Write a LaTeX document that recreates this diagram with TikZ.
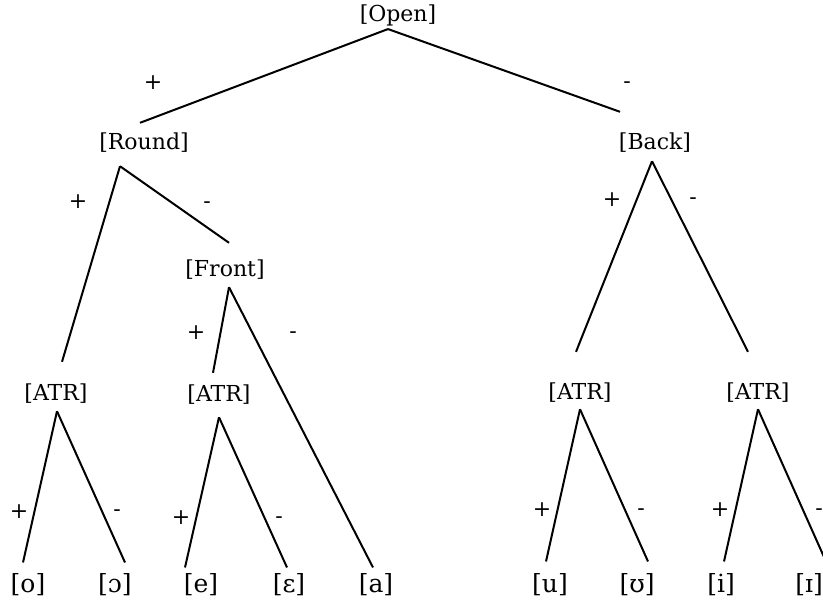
\documentclass[tikz,border=0pt]{standalone}
\usepackage{fontspec}
\setmainfont{DejaVu Serif}

\begin{document}
\begin{tikzpicture}[x=0.5pt,y=-0.5pt,
    feat/.style={inner sep=0pt,font=\fontsize{11}{13}\selectfont},
    seg/.style={inner sep=0pt,font=\fontsize{12.5}{14}\selectfont},
    sign/.style={inner sep=0pt,font=\fontsize{11}{13}\selectfont},
    branch/.style={line width=1pt}]
    \useasboundingbox (0,0) rectangle (823,602);
    % feature nodes
    \node[feat] (open) at (398,15) {[Open]};
    \node[feat] (round) at (144,143) {[Round]};
    \node[feat] (back) at (655,143) {[Back]};
    \node[feat] (front) at (225,270) {[Front]};
    \node[feat] (atrA) at (56,394) {[ATR]};
    \node[feat] (atrB) at (219,395) {[ATR]};
    \node[feat] (atrC) at (580,393) {[ATR]};
    \node[feat] (atrD) at (758,393) {[ATR]};
    % vowels
    \node[seg] (o) at (28,585) {[o]};
    \node[seg] (oo) at (115,585) {[ɔ]};
    \node[seg] (e) at (201,585) {[e]};
    \node[seg] (ee) at (289,585) {[ɛ]};
    \node[seg] (a) at (376,585) {[a]};
    \node[seg] (u) at (550,585) {[u]};
    \node[seg] (uu) at (637,585) {[ʊ]};
    \node[seg] (i) at (721,585) {[i]};
    \node[seg] (ii) at (809,585) {[ɪ]};
    % branches
    \draw[branch] ([shift={(-10,3)}]open.south) -- ([shift={(-4,-10)}]round.north);
    \draw[branch] ([shift={(-10,3)}]open.south) -- ([shift={(-35,-21)}]back.north);
    \draw[branch] ([shift={(-24,13)}]round.south) -- ([shift={(6,-22)}]atrA.north);
    \draw[branch] ([shift={(-24,13)}]round.south) -- ([shift={(4,-17)}]front.north);
    \draw[branch] ([shift={(-3,8)}]back.south) -- ([shift={(-4,-31)}]atrC.north);
    \draw[branch] ([shift={(-3,8)}]back.south) -- ([shift={(-10,-31)}]atrD.north);
    \draw[branch] ([shift={(4,7)}]front.south) -- ([shift={(-6,-12)}]atrB.north);
    \draw[branch] ([shift={(4,7)}]front.south) -- ([shift={(-3,-6)}]a.north);
    \draw[branch] ([shift={(1,7)}]atrA.south) -- ([shift={(-5,-11)}]o.north);
    \draw[branch] ([shift={(1,7)}]atrA.south) -- ([shift={(10,-11)}]oo.north);
    \draw[branch] ([shift={(0,12)}]atrB.south) -- ([shift={(-16,-6)}]e.north);
    \draw[branch] ([shift={(0,12)}]atrB.south) -- ([shift={(-2,-6)}]ee.north);
    \draw[branch] ([shift={(0,6)}]atrC.south) -- ([shift={(-4,-12)}]u.north);
    \draw[branch] ([shift={(0,6)}]atrC.south) -- ([shift={(11,-12)}]uu.north);
    \draw[branch] ([shift={(0,6)}]atrD.south) -- ([shift={(3,-12)}]i.north);
    \draw[branch] ([shift={(0,6)}]atrD.south) -- ([shift={(17,-12)}]ii.north);
    % plus and minus signs
    \node[sign] (plusOpen) at (153,83) {+};
    \node[sign] (minusOpen) at (627,85) {-};
    \node[sign] (plusRound) at (78,202) {+};
    \node[sign] (minusRound) at (207,205) {-};
    \node[sign] (plusBack) at (612,200) {+};
    \node[sign] (minusBack) at (693,201) {-};
    \node[sign] (plusFront) at (196,333) {+};
    \node[sign] (minusFront) at (293,335) {-};
    \node[sign] (plusA) at (19,512) {+};
    \node[sign] (minusA) at (117,513) {-};
    \node[sign] (plusB) at (181,518) {+};
    \node[sign] (minusB) at (279,520) {-};
    \node[sign] (plusC) at (542,510) {+};
    \node[sign] (minusC) at (641,512) {-};
    \node[sign] (plusD) at (720,510) {+};
    \node[sign] (minusD) at (819,512) {-};
\end{tikzpicture}
\end{document}
